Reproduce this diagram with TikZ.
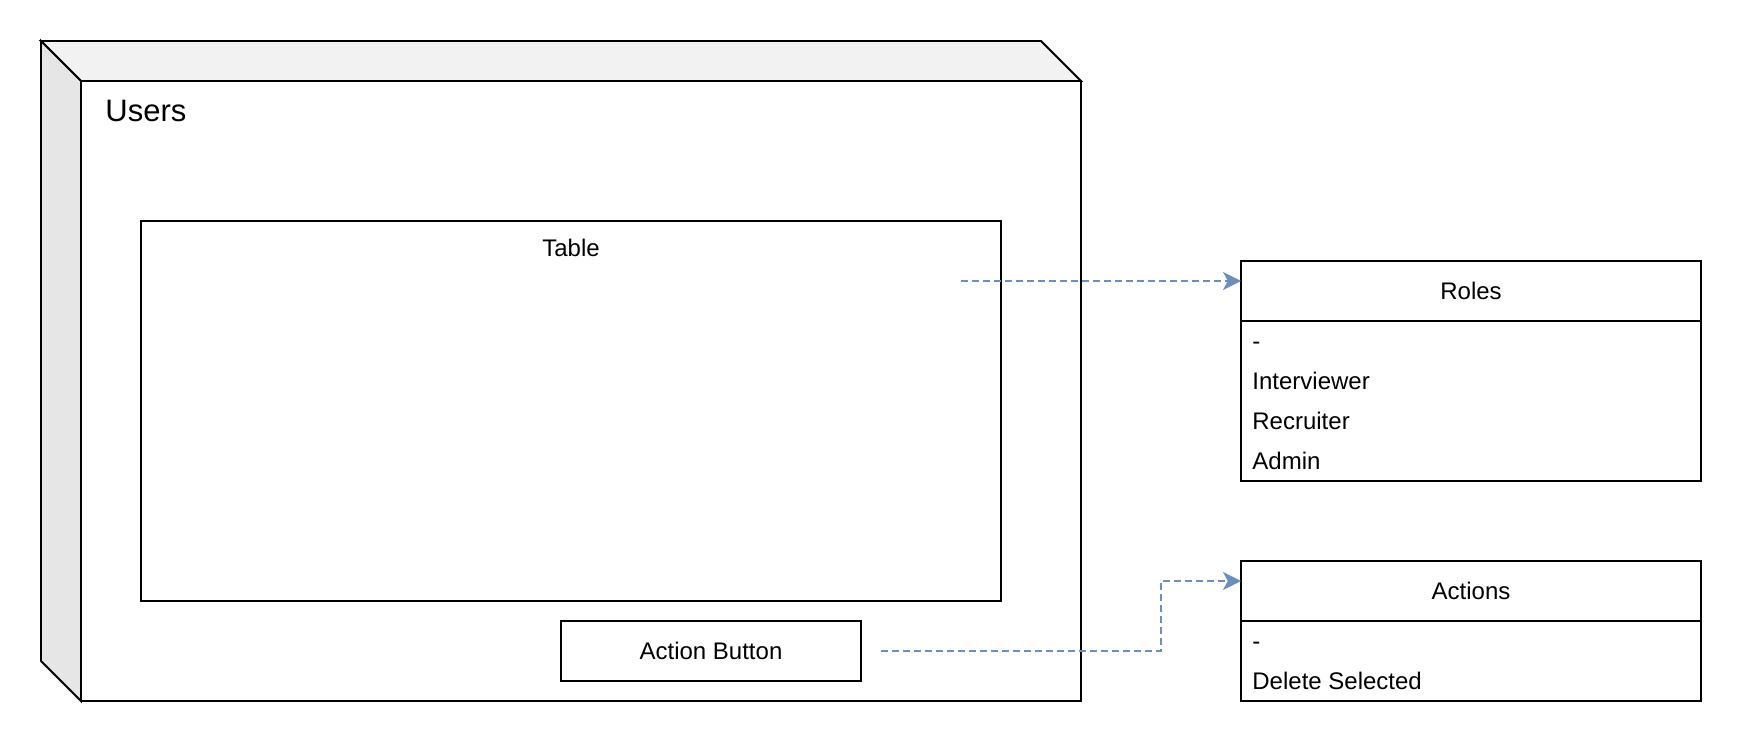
\documentclass[tikz,border=0pt]{standalone}
\usepackage{fontspec}
\setmainfont{Liberation Sans}
\usepackage{tikz}
\usetikzlibrary{arrows.meta,positioning,calc}

\definecolor{linkblue}{HTML}{6C8EBF}
\definecolor{topface}{HTML}{F2F2F2}
\definecolor{sideface}{HTML}{E6E6E6}

\begin{document}
\begin{tikzpicture}[
    x=0.5pt, y=-0.5pt,
    node distance=0pt,% list parts sit flush
    box/.style={
        % plain frame
        rectangle,
        draw=black,
        line width=0.95pt,
        inner sep=0pt,
        outer sep=0pt,
        fill=white},
    caption/.style={
        % the fonts
        font=\fontsize{12pt}{14pt}\selectfont,
        text height=8.6pt,
        text depth=0pt},
    listhead/.style={box, caption, minimum width=230pt, minimum height=30pt},
    listbody/.style={box, minimum width=230pt},
    listitem/.style={caption, inner sep=0pt, anchor=west},
    link/.style={
        draw=linkblue,
        line width=0.75pt,
        dash pattern=on 3.3pt off 2.2pt,
        -{Stealth[length=9pt,width=9pt,inset=2.4pt]}}]
  \useasboundingbox (0,0) rectangle (1742,742);
  % the block
  \draw[line width=0.95pt, fill=topface] (41,41) -- (1041,41) -- (1081,81) -- (81,81) -- cycle;
  \draw[line width=0.95pt, fill=sideface] (41,41) -- (81,81) -- (81,701) -- (41,661) -- cycle;
  \node (users) [box, minimum width=500pt, minimum height=310pt] at (581,391) {};
  \node (users title) [anchor=base west, inner sep=0pt, font=\fontsize{15.5pt}{18pt}\selectfont] at (105,122) {Users};
  \node (table) [box, minimum width=430pt, minimum height=190pt] at (571,411) {};
  \node (table title) [caption, inner sep=0pt] at (571,247.5) {Table};
  \node (button) [box, caption, minimum width=150pt, minimum height=30pt] at (711,651) {Action Button};
  % the lists
  \node (roles) [listhead] at (1471,291) {Roles};
  \node (roles body) [listbody, minimum height=80pt, below=of roles] {};
  \foreach \entry [count=\i] in {-, Interviewer, Recruiter, Admin}
    \node [listitem] at ($(roles body.north west)+(11,20+40*\i-40)$) {\entry};
  \node (actions) [listhead] at (1471,591) {Actions};
  \node (actions body) [listbody, minimum height=40pt, below=of actions] {};
  \foreach \entry [count=\i] in {-, Delete Selected}
    \node [listitem] at ($(actions body.north west)+(11,20+40*\i-40)$) {\entry};
  % the links
  \coordinate (table link) at (961,281);
  \draw[link] (table link) -- ([yshift=-10pt]roles.north west);
  \coordinate (button link) at ([xshift=10pt]button.east);
  \coordinate (bend) at (1161,581);
  \draw[link] (button link) -| (bend) -- ([yshift=-10pt]actions.north west);
\end{tikzpicture}
\end{document}
